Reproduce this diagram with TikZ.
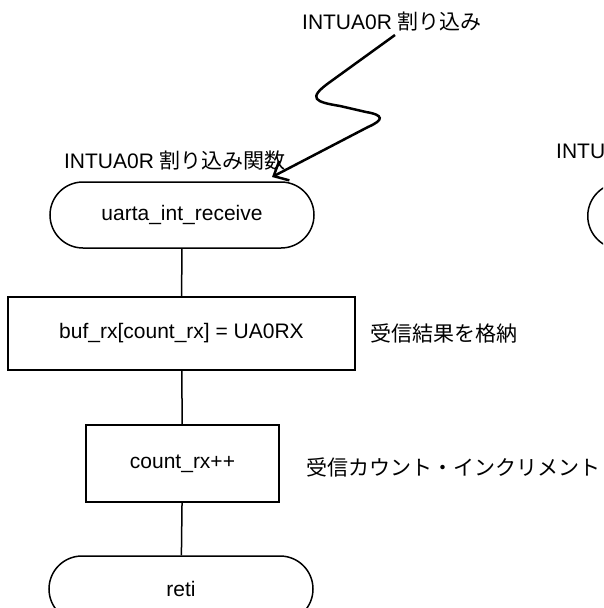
\documentclass[tikz,border=0pt]{standalone}
\usepackage{fontspec}
\setmainfont{Liberation Sans}
\newfontfamily\jp{Noto Sans CJK JP}
\usetikzlibrary{arrows.meta}
\begin{document}
\begin{tikzpicture}[x=1pt,y=-1pt,
  every node/.style={font=\fontsize{21}{25}\selectfont, inner sep=0pt},
  term/.style={draw, line width=1.5pt, rounded corners=33pt, minimum width=264pt, minimum height=66pt},
  proc/.style={draw, line width=1.5pt},
  link/.style={line width=1.5pt},
  bolt/.style={line width=2.5pt, -{Straight Barb[length=12pt,width=22pt,line width=2.5pt]}}]
\useasboundingbox (0,0) rectangle (603,608);
\clip (0,0) rectangle (603,608);

\node (toplbl) at (392,22) {INTUA0R {\jp 割り込み}};
\node (funclbl) at (175,161) {INTUA0R {\jp 割り込み関数}};
\node[term] (start) at (182,215) {uarta\_int\_receive};
\node[proc, minimum width=347pt, minimum height=73pt] (p1) at (181.5,333.5) {buf\_rx[count\_rx] = UA0RX};
\node[anchor=west] (l1) at (370,333) {\jp 受信結果を格納};
\node[proc, minimum width=193pt, minimum height=77pt] (p2) at (182.5,463.5) {count\_rx++};
\node[anchor=west] (l2) at (306,467) {\jp 受信カウント・インクリメント};
\node[term] (end) at (181,589) {reti};

\node[anchor=west] (rlbl) at (556,151) {INTUA0R {\jp 割り込み関数}};
\node[term, anchor=west] (rstart) at (587,216) {};

\coordinate (z0) at (395,35);
\coordinate (z1) at (330,82);
\coordinate (z2) at (340,106);
\coordinate (z3) at (366,112);
\coordinate (z4) at (368,127);
\coordinate (z5) at (272,177);
\draw[bolt] (z0) -- (z1) .. controls (306,99) and (316,102) .. (z2) -- (z3) .. controls (384,115) and (384,120) .. (z4) -- (z5);

\draw[link] (start) -- (p1);
\draw[link] (p1) -- (p2);
\draw[link] (p2) -- (end);
\end{tikzpicture}
\end{document}
